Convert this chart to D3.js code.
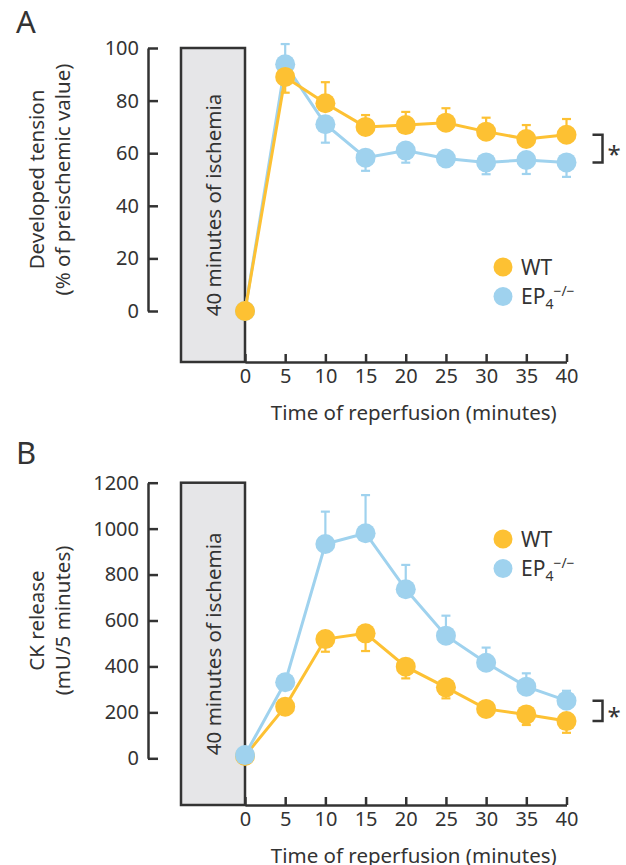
<!DOCTYPE html>
<html>
  <head>
    <title>Ischemia reperfusion</title>
    <script src="https://d3js.org/d3.v7.min.js"></script>
    <style>
      body { margin: 0; background: #fff; }
      text { font-family: "Noto Sans", "Liberation Sans", Arial, sans-serif; fill: #333; }
      .axis .domain, .axis .tick line { stroke: #333; stroke-width: 2.5px; }
      .axis .tick text { font-family: "Noto Sans", sans-serif; font-size: 20px; fill: #333; }
      .label { font-size: 20.5px; }
      .panel-label { font-size: 31px; }
      .legend text { font-size: 21px; }
    </style>
  </head>
  <body>
    <svg width="626" height="865"></svg>
    <script>
      const times = [0, 5, 10, 15, 20, 25, 30, 35, 40];
      const xTicks = [0, 5, 10, 15, 20, 25, 30, 35, 40];

      // panel A: developed tension (% of preischemic value)
      const tensionTicks = [0, 20, 40, 60, 80, 100];
      const tensionWT = [0, 89, 79, 70, 70.7, 71.6, 68.2, 65.4, 67];
      const tensionWTErr = [0, 6, 8, 4.5, 5, 5.5, 5.3, 5.3, 6];
      const tensionWTDir = [1, -1, 1, 1, 1, 1, 1, 1, 1];
      const tensionEP4 = [0, 93.8, 71, 58.3, 61, 58, 56.5, 57.4, 56.5];
      const tensionEP4Err = [0, 7.7, 7, 5, 4.6, 2.5, 4.5, 5.3, 5.5];
      const tensionEP4Dir = [-1, 1, -1, -1, -1, -1, -1, -1, -1];

      // panel B: CK release (mU/5 minutes)
      const ckTicks = [0, 200, 400, 600, 800, 1000, 1200];
      const ckWT = [10, 225, 519, 544, 399, 309, 215, 191, 162];
      const ckWTErr = [0, 15, 55, 77, 51, 48, 20, 46, 51];
      const ckWTDir = [-1, -1, -1, -1, -1, -1, -1, -1, -1];
      const ckEP4 = [14, 331, 933, 980, 736, 534, 416, 312, 251];
      const ckEP4Err = [0, 15, 141, 166, 106, 87, 66, 58, 43];
      const ckEP4Dir = [1, 1, 1, 1, 1, 1, 1, 1, 1];

      const orange = "#fdc133";
      const blue = "#9fd2ee";

      function makeSeries(values, errs, dirs){
        return times.map((t, i) => ({t: t, v: values[i], e: errs[i] * dirs[i]}));
      }

      function seriesMarks(g, props){
        const xScale = props.xScale;
        const yScale = props.yScale;
        const data = props.data;
        const color = props.color;

        const line = d3.line()
          .x(d => xScale(d.t))
          .y(d => yScale(d.v));

        const s = g.append("g");

        const err = s.selectAll(".err")
          .data(data.filter(d => d.e !== 0))
          .enter().append("g")
            .attr("stroke", color)
            .attr("stroke-width", 2.2);
        err.append("line")
          .attr("x1", d => xScale(d.t))
          .attr("x2", d => xScale(d.t))
          .attr("y1", d => yScale(d.v))
          .attr("y2", d => yScale(d.v + d.e));
        err.append("line")
          .attr("x1", d => xScale(d.t) - 4.5)
          .attr("x2", d => xScale(d.t) + 4.5)
          .attr("y1", d => yScale(d.v + d.e))
          .attr("y2", d => yScale(d.v + d.e));

        s.append("path")
          .datum(data)
          .attr("fill", "none")
          .attr("stroke", color)
          .attr("stroke-width", 3)
          .attr("d", line);

        s.selectAll("circle")
          .data(data)
          .enter().append("circle")
            .attr("cx", d => xScale(d.t))
            .attr("cy", d => yScale(d.v))
            .attr("r", 10)
            .attr("fill", color);
      }

      function panel(svg, props){
        const xScale = d3.scaleLinear()
          .domain([0, 40])
          .range([245, 566.5]);
        const yScale = d3.scaleLinear()
          .domain([0, props.yTicks[props.yTicks.length - 1]])
          .range(props.yRange);
        const axisY = props.axisY;
        const top = props.yRange[1];

        const g = svg.append("g");

        // ischemia box
        g.append("rect")
          .attr("x", 181)
          .attr("y", top)
          .attr("width", xScale(0) - 181)
          .attr("height", axisY - top)
          .attr("fill", "#e6e6e8")
          .attr("stroke", "#333")
          .attr("stroke-width", 2.5);
        g.append("text")
          .attr("class", "label")
          .attr("transform", `translate(${(181 + xScale(0)) / 2}, ${(top + axisY) / 2}) rotate(-90)`)
          .attr("text-anchor", "middle")
          .attr("dominant-baseline", "central")
          .text("40 minutes of ischemia");

        // y axis
        g.append("g")
          .attr("class", "axis")
          .attr("transform", "translate(148, 0)")
          .call(d3.axisLeft(yScale)
            .tickValues(props.yTicks)
            .tickFormat(d3.format("d"))
            .tickSizeInner(-10)
            .tickSizeOuter(0)
            .tickPadding(9));

        // x axis
        g.append("g")
          .attr("class", "axis")
          .attr("transform", `translate(0, ${axisY})`)
          .call(d3.axisBottom(xScale)
            .tickValues(xTicks)
            .tickSizeInner(-8)
            .tickSizeOuter(0)
            .tickPadding(7));

        g.append("text")
          .attr("class", "label")
          .attr("x", (xScale(0) + xScale(40)) / 2 + 8)
          .attr("y", axisY + 58)
          .attr("text-anchor", "middle")
          .text("Time of reperfusion (minutes)");

        // y label
        const yMid = (props.yRange[0] + props.yRange[1]) / 2;
        const yl = g.append("text")
          .attr("class", "label")
          .attr("text-anchor", "middle")
          .attr("transform", `translate(0, ${yMid}) rotate(-90)`);
        yl.append("tspan").attr("x", 0).attr("y", 44).text(props.yLabel1);
        yl.append("tspan").attr("x", 0).attr("y", 70).text(props.yLabel2);

        g.append("text")
          .attr("class", "panel-label")
          .attr("x", 16)
          .attr("y", props.labelY)
          .text(props.label);

        // series
        props.order.forEach(s => seriesMarks(g, {xScale, yScale, data: s.data, color: s.color}));

        // significance bracket
        const y1 = yScale(props.wt[props.wt.length - 1].v);
        const y2 = yScale(props.ep[props.ep.length - 1].v);
        const bx = xScale(40) + 26;
        g.append("path")
          .attr("d", `M${bx},${Math.min(y1, y2)}H${bx + 10}V${Math.max(y1, y2)}H${bx}`)
          .attr("fill", "none")
          .attr("stroke", "#333")
          .attr("stroke-width", 2.5);
        g.append("text")
          .attr("x", bx + 15)
          .attr("y", (y1 + y2) / 2 + 14)
          .attr("font-size", 24)
          .text("*");

        // legend
        const lg = g.append("g")
          .attr("class", "legend")
          .attr("transform", `translate(503, ${props.legendY})`);
        lg.append("circle").attr("r", 9.5).attr("fill", orange);
        lg.append("text").attr("x", 18).attr("y", 7.5).text("WT");
        lg.append("circle").attr("cy", 29.5).attr("r", 9.5).attr("fill", blue);
        const ep = lg.append("text").attr("x", 18).attr("y", 37);
        ep.append("tspan").text("EP");
        ep.append("tspan").attr("font-size", 14).attr("dy", 5).text("4");
        ep.append("tspan").attr("font-size", 14).attr("dy", -13).text("\u2212/\u2212");
      }

      function main(){
        const svg = d3.select("svg");

        const tWT = makeSeries(tensionWT, tensionWTErr, tensionWTDir);
        const tEP = makeSeries(tensionEP4, tensionEP4Err, tensionEP4Dir);
        panel(svg, {
          label: "A",
          labelY: 33,
          yTicks: tensionTicks,
          yRange: [311, 48],
          axisY: 362,
          yLabel1: "Developed tension",
          yLabel2: "(% of preischemic value)",
          wt: tWT,
          ep: tEP,
          order: [{data: tEP, color: blue}, {data: tWT, color: orange}],
          legendY: 267
        });

        const cWT = makeSeries(ckWT, ckWTErr, ckWTDir);
        const cEP = makeSeries(ckEP4, ckEP4Err, ckEP4Dir);
        panel(svg, {
          label: "B",
          labelY: 464,
          yTicks: ckTicks,
          yRange: [758.3, 482.7],
          axisY: 805,
          yLabel1: "CK release",
          yLabel2: "(mU/5 minutes)",
          wt: cWT,
          ep: cEP,
          order: [{data: cWT, color: orange}, {data: cEP, color: blue}],
          legendY: 539
        });
      }
      main();
    </script>
  </body>
</html>
